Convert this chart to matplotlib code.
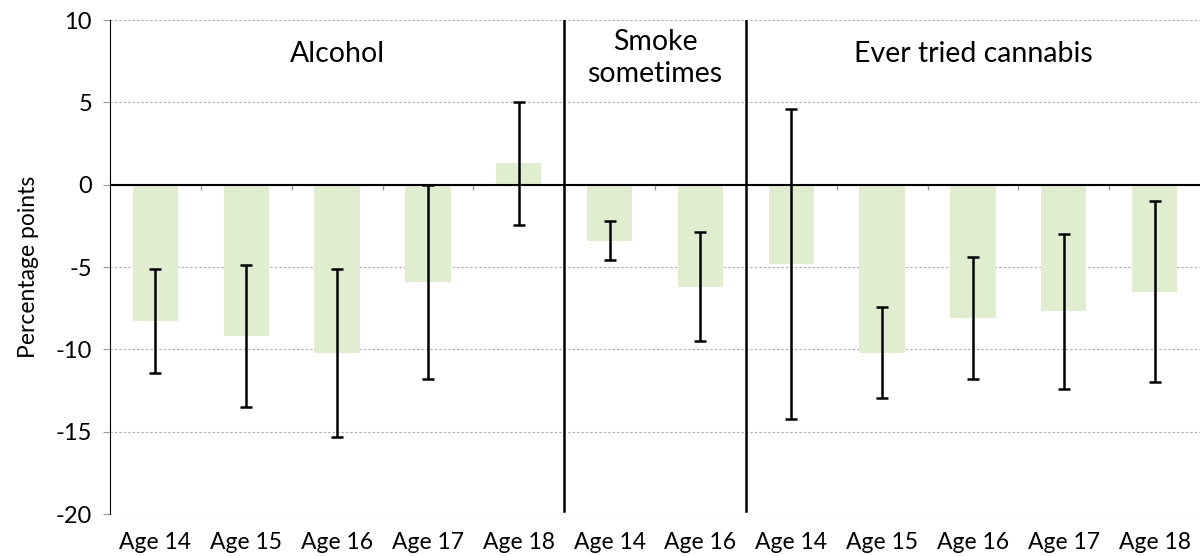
import matplotlib
matplotlib.use("Agg")
import matplotlib.pyplot as plt
import numpy as np

plt.rcParams['font.family'] = ['Lato', 'DejaVu Sans']
plt.rcParams['axes.unicode_minus'] = False

# data
labels = ["Age 14", "Age 15", "Age 16", "Age 17", "Age 18",
          "Age 14", "Age 16",
          "Age 14", "Age 15", "Age 16", "Age 17", "Age 18"]
values = [-8.3, -9.2, -10.2, -5.9, 1.3,
          -3.4, -6.2,
          -4.8, -10.2, -8.1, -7.7, -6.5]
errs = [3.15, 4.3, 5.1, 5.9, 3.75,
        1.2, 3.3,
        9.4, 2.75, 3.7, 4.7, 5.5]
groups = ["Alcohol", "Smoke\nsometimes", "Ever tried cannabis"]
group_sizes = [5, 2, 5]

x = np.arange(len(labels))

fig = plt.figure(figsize=(12.04, 5.56), dpi=100)
ax = fig.add_axes([0.0914, 0.0755, 0.9053, 0.8885])

ax.bar(x, values, width=0.5, color="#e1edcf", zorder=2)
ax.errorbar(x, values, yerr=errs, fmt="none", ecolor="black",
            elinewidth=1.8, capsize=4.5, capthick=1.8, zorder=3)
ax.axhline(0, color="black", linewidth=1.5, zorder=2.5)
# small category ticks hanging under the zero line
ax.vlines(x[:-1] + 0.5, -0.35, 0, color="#999999", linewidth=1, zorder=2.4)

ax.set_xlim(-0.5, len(labels) - 0.5)
ax.set_ylim(-20, 10)
ax.set_yticks(np.arange(-20, 11, 5))
ax.yaxis.grid(True, linestyle=(0, (2, 2)), color="#aaaaaa", linewidth=0.8)
ax.set_axisbelow(True)

ax.set_xticks(x)
ax.set_xticklabels(labels, fontsize=16.5)
ax.tick_params(axis="x", length=0, pad=13)
ax.tick_params(axis="y", labelsize=17, length=5, color="#999999", pad=8)

for s in ["top", "right", "bottom"]:
    ax.spines[s].set_visible(False)
ax.spines["left"].set_color("black")

# group separators and titles
title_y = [7.95, 7.7, 7.95]
start = 0
for g, n, ty in zip(groups, group_sizes, title_y):
    mid = start + (n - 1) / 2
    ax.text(mid, ty, g, ha="center", va="center", fontsize=20.5,
            linespacing=1.3)
    start += n
    if start < len(labels):
        ax.plot([start - 0.5, start - 0.5], [-19.8, 10], color="black",
                linewidth=1.8, zorder=4)

ax.set_ylabel("Percentage points", fontsize=16.5, labelpad=12)

fig.savefig("out.png", dpi=100)
